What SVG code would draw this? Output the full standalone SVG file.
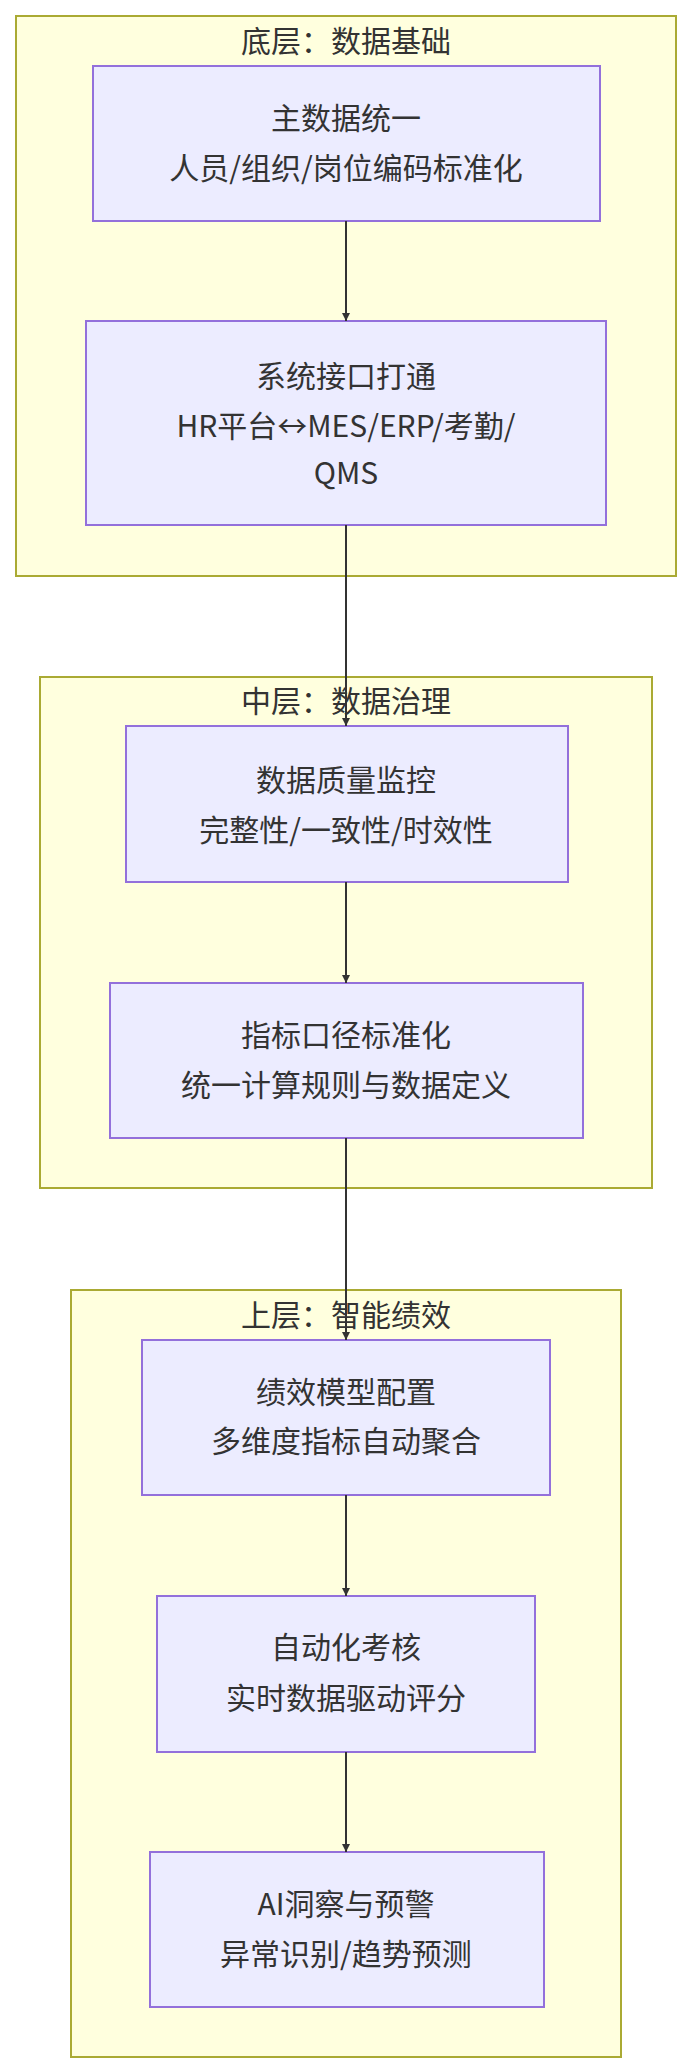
<svg xmlns="http://www.w3.org/2000/svg" width="692" height="2072" viewBox="0 0 692 2072">
<style>
.c{fill:#ffffde;stroke:#aaaa33;stroke-width:2}
.n{fill:#ececff;stroke:#9370db;stroke-width:2}
text{font-family:"Noto Sans CJK SC","Noto Sans",sans-serif;font-size:30px;fill:#333;text-anchor:middle}
.e{stroke:#333;stroke-width:2;fill:none;marker-end:url(#a)}
</style>
<defs><marker id="a" viewBox="0 0 10 10" refX="10" refY="5" markerWidth="8" markerHeight="8" markerUnits="userSpaceOnUse" orient="auto"><path d="M0,0L10,5L0,10z" fill="#333"/></marker></defs>
<rect width="692" height="2072" fill="#fff"/>
<g id="layer1"><rect class="c" x="16" y="16" width="660" height="560"/><text x="346" y="52">底层：数据基础</text></g>
<g id="layer2"><rect class="c" x="40" y="677" width="612" height="511"/><text x="346" y="712">中层：数据治理</text></g>
<g id="layer3"><rect class="c" x="71" y="1290" width="550" height="767"/><text x="346" y="1326">上层：智能绩效</text></g>
<g id="A"><rect class="n" x="93" y="66" width="507" height="155"/><text x="346" y="129">主数据统一</text><text x="346" y="179">人员/组织/岗位编码标准化</text></g>
<g id="B"><rect class="n" x="86" y="321" width="520" height="204"/><text x="346" y="387">系统接口打通</text><text x="346" y="437">HR平台↔MES/ERP/考勤/</text><text x="346" y="484">QMS</text></g>
<g id="C"><rect class="n" x="126" y="726" width="442" height="156"/><text x="346" y="791">数据质量监控</text><text x="346" y="841">完整性/一致性/时效性</text></g>
<g id="D"><rect class="n" x="110" y="983" width="473" height="155"/><text x="346" y="1046">指标口径标准化</text><text x="346" y="1096">统一计算规则与数据定义</text></g>
<g id="E"><rect class="n" x="142" y="1340" width="408" height="155"/><text x="346" y="1403">绩效模型配置</text><text x="346" y="1452">多维度指标自动聚合</text></g>
<g id="F"><rect class="n" x="157" y="1596" width="378" height="156"/><text x="346" y="1658">自动化考核</text><text x="346" y="1709">实时数据驱动评分</text></g>
<g id="G"><rect class="n" x="150" y="1852" width="394" height="155"/><text x="346" y="1915">AI洞察与预警</text><text x="346" y="1965">异常识别/趋势预测</text></g>
<g id="edges">
<path class="e" d="M346,221V321"/>
<path class="e" d="M346,525V726"/>
<path class="e" d="M346,882V983"/>
<path class="e" d="M346,1138V1340"/>
<path class="e" d="M346,1495V1596"/>
<path class="e" d="M346,1752V1852"/>
</g>
</svg>
